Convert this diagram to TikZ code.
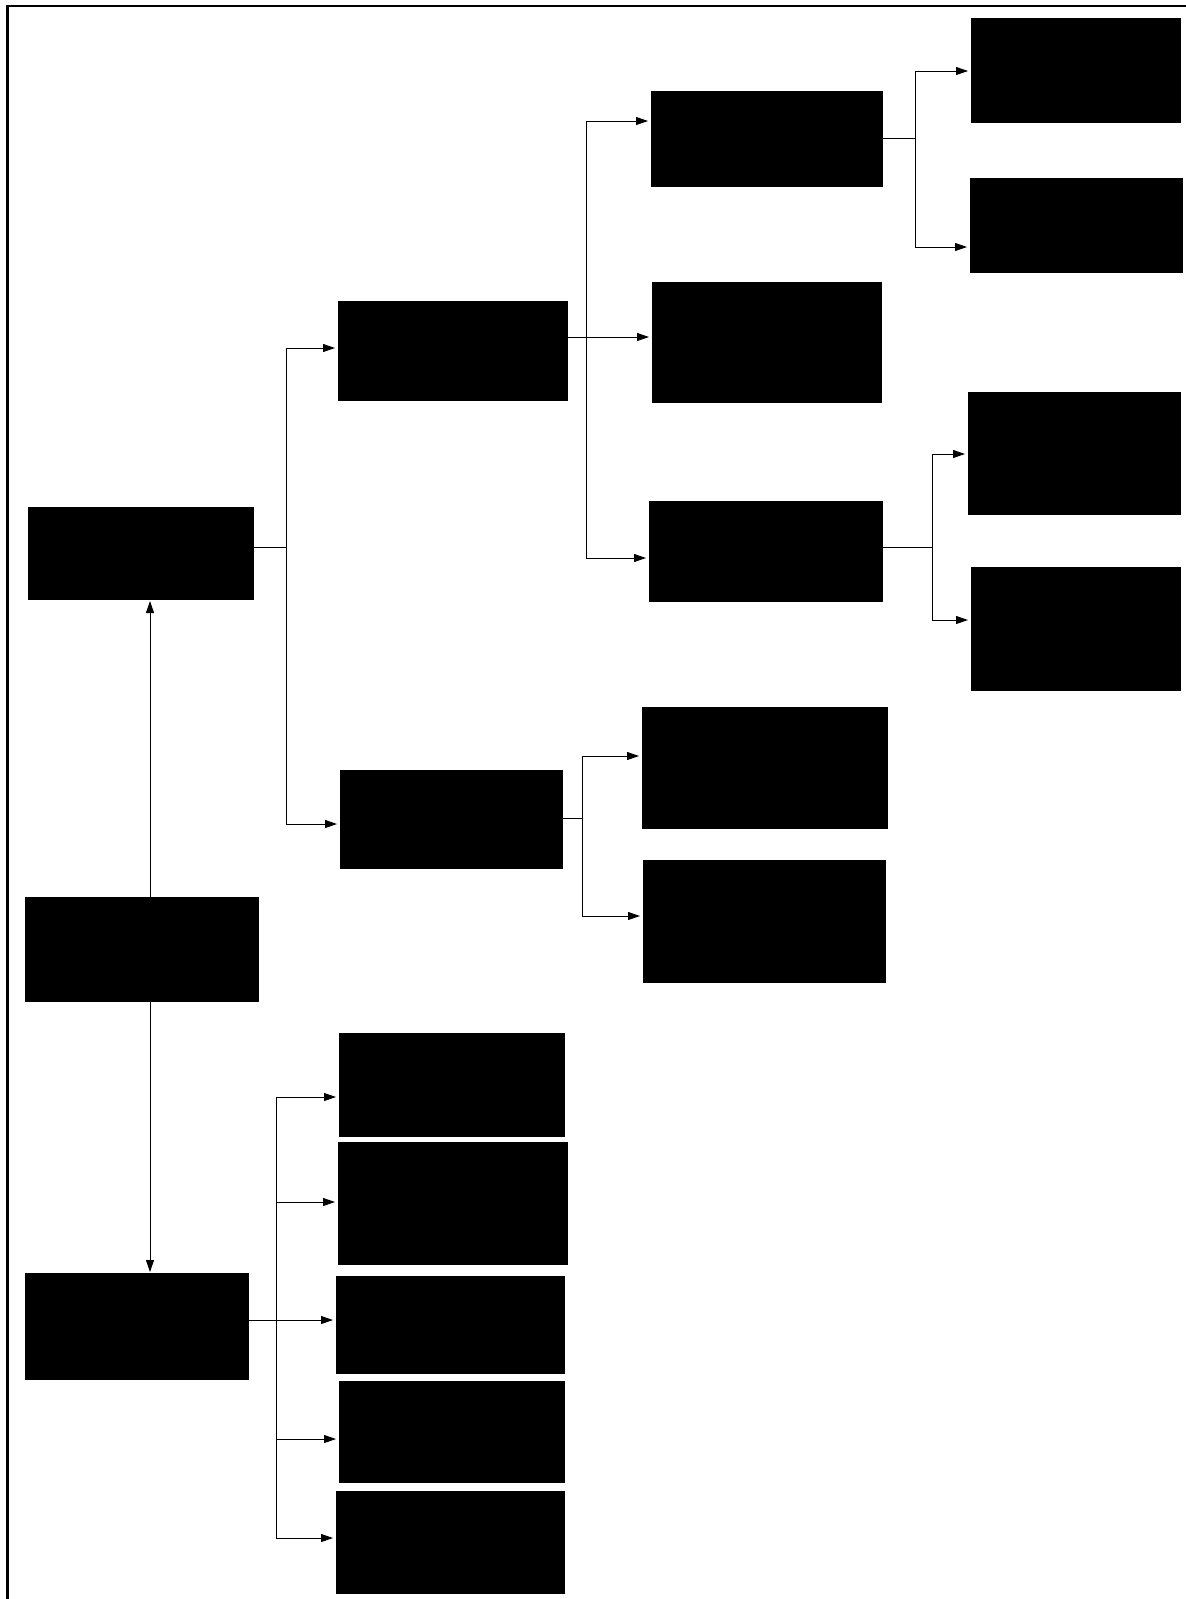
\documentclass[tikz,border=0pt]{standalone}
\usetikzlibrary{fit,arrows.meta}
\begin{document}
\begin{tikzpicture}[x=1pt,y=-1pt,
  blk/.style={fill=black,draw=none,inner sep=0pt,outer sep=0pt},
  conn/.style={line width=0.9pt,draw=black},
  arr/.style={conn,-{Triangle[length=12pt,width=8pt]},shorten >=3pt}]
\useasboundingbox (0,0) rectangle (1186,1599);
% frame
\draw[line width=2.2pt] (7.5,1599) -- (7.5,6) -- (1186,6);
% boxes
\node[blk,fit={(28,507) (254,600)}] (A) {};
\node[blk,fit={(25,897) (259,1002)}] (B) {};
\node[blk,fit={(25,1273) (249,1380)}] (C) {};
\node[blk,fit={(338,301) (568,401)}] (D) {};
\node[blk,fit={(340,770) (563,869)}] (E) {};
\node[blk,fit={(651,91) (883,187)}] (F) {};
\node[blk,fit={(652,282) (882,403)}] (G) {};
\node[blk,fit={(649,501) (883,602)}] (H) {};
\node[blk,fit={(642,707) (888,829)}] (I) {};
\node[blk,fit={(643,860) (886,983)}] (J) {};
\node[blk,fit={(971,18) (1181,123)}] (K) {};
\node[blk,fit={(970,178) (1183,273)}] (L) {};
\node[blk,fit={(968,392) (1181,515)}] (M) {};
\node[blk,fit={(971,567) (1181,691)}] (N) {};
\node[blk,fit={(339,1033) (565,1137)}] (O) {};
\node[blk,fit={(338,1142) (568,1265)}] (P) {};
\node[blk,fit={(336,1276) (565,1374)}] (Q) {};
\node[blk,fit={(339,1381) (565,1483)}] (R) {};
\node[blk,fit={(336,1491) (565,1594)}] (S) {};
% trunk coordinates
\coordinate (tA) at (286,547);
\coordinate (tD) at (586,337);
\coordinate (tE) at (582,818);
\coordinate (tF) at (915,138);
\coordinate (tH) at (932,547);
\coordinate (tC) at (276,1320);
% A -> D, E
\draw[conn] (A.east |- tA) -- (tA);
\draw[arr] (tA) |- (D.west |- 0,348);
\draw[arr] (tA) |- (E.west |- 0,824);
% D -> F, G, H
\draw[conn] (D.east |- tD) -- (tD);
\draw[arr] (tD) |- (F.west |- 0,121);
\draw[arr] (tD) -- (G.west |- tD);
\draw[arr] (tD) |- (H.west |- 0,558);
% E -> I, J
\draw[conn] (E.east |- tE) -- (tE);
\draw[arr] (tE) |- (I.west |- 0,756);
\draw[arr] (tE) |- (J.west |- 0,916);
% F -> K, L
\draw[conn] (F.east |- tF) -- (tF);
\draw[arr] (tF) |- (K.west |- 0,71);
\draw[arr] (tF) |- (L.west |- 0,247);
% H -> M, N
\draw[conn] (H.east |- tH) -- (tH);
\draw[arr] (tH) |- (M.west |- 0,454);
\draw[arr] (tH) |- (N.west |- 0,620);
% B -> A, C
\draw[arr,shorten >=1pt] (B.north -| 150,0) -- (A.south -| 150,0);
\draw[arr,shorten >=1pt] (B.south -| 150,0) -- (C.north -| 150,0);
% C -> O..S
\draw[conn] (C.east |- tC) -- (tC);
\draw[arr] (tC) |- (O.west |- 0,1097);
\draw[arr] (tC) |- (P.west |- 0,1202);
\draw[arr] (tC) -- (Q.west |- tC);
\draw[arr] (tC) |- (R.west |- 0,1439);
\draw[arr] (tC) |- (S.west |- 0,1538);
\end{tikzpicture}
\end{document}
